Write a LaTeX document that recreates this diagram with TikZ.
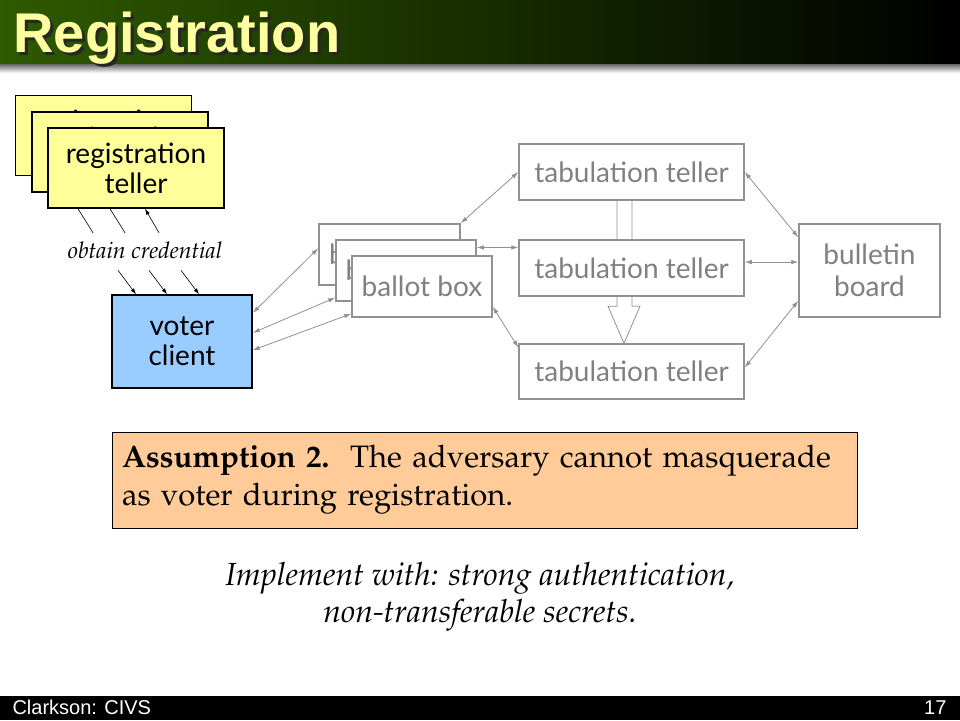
\documentclass[tikz,border=0pt]{standalone}
\usepackage[T1,TU]{fontenc}
\usepackage{fontspec}
\setsansfont{Lato}
\newfontfamily\headfont{Liberation Sans}
\usetikzlibrary{arrows.meta,backgrounds}
\definecolor{barGreen}{RGB}{46,90,0}
\definecolor{titleYellow}{RGB}{255,255,160}
\definecolor{tellerYellow}{RGB}{255,255,153}
\definecolor{clientBlue}{RGB}{153,204,255}
\definecolor{assumPeach}{RGB}{255,204,153}
\definecolor{boxGray}{RGB}{145,145,145}
\definecolor{textGray}{RGB}{128,128,128}
\newcommand{\pala}{\fontencoding{T1}\fontfamily{ppl}\selectfont}
\tikzset{
  regbox/.style={draw=black, line width=1.5pt, fill=tellerYellow, minimum width=176pt, minimum height=80pt, inner sep=0pt, align=center, font=\sffamily\fontsize{28}{30}\selectfont},
  clientbox/.style={regbox, fill=clientBlue, minimum width=140pt, minimum height=93pt},
  graybox/.style={draw=boxGray, line width=1.5pt, fill=white, text=textGray, inner sep=0pt, align=center, font=\sffamily\fontsize{28}{32}\selectfont},
  link/.style={boxGray, line width=0.8pt, {Latex[length=7pt,width=4.5pt]}-{Latex[length=7pt,width=4.5pt]}},
  hollow/.style={boxGray, line width=0.8pt, fill=white},
  tick/.style={black, line width=0.6pt, -{Latex[length=6pt,width=4pt]}}
}
\begin{document}
\begin{tikzpicture}[x=1pt,y=-1pt]
	\useasboundingbox (0,0) rectangle (960,720);
	\shade[left color=barGreen, middle color=barGreen!75!black, right color=black] (0,0) rectangle (960,64);
	\shade[top color=black!60, bottom color=white] (0,64) rectangle (960,73);
	\fill[black] (0,696) rectangle (960,720);
	\node[anchor=base west, text=black!85, font=\headfont\bfseries\fontsize{56}{60}\selectfont] (titleshadow) at (13,55) {Registration};
	\node[anchor=base west, text=titleYellow, font=\headfont\bfseries\fontsize{56}{60}\selectfont] (title) at (10,52) {Registration};
	\node[anchor=base west, text=white, font=\headfont\fontsize{20}{20}\selectfont] (footer) at (9,714) {Clarkson: CIVS};
	\node[anchor=base east, text=white, font=\headfont\fontsize{20}{20}\selectfont] (pagenum) at (950,714) {17};

	\node[regbox] (rt1) at (103.5,135.5) {registration\\teller};
	\node[regbox] (rt2) at (120,152) {registration\\teller};
	\node[regbox] (rt3) at (136,168) {registration\\teller};
	\node[clientbox] (vc) at (182,341.5) {voter\\client};
	\node[font=\pala\itshape\fontsize{23}{24}\selectfont] (obtain) at (145,250) {obtain credential};
	\foreach \dx in {-58,-26}
		\draw[line width=0.6pt] ([xshift=\dx pt]rt3.south) -- ++(15,24);
	\draw[tick] ([xshift=23pt,yshift=-24pt]rt3.south) -- ([xshift=9pt]rt3.south);
	\foreach \dx in {-46,-15,17}
		\draw[tick] ([xshift=\dx pt-18pt,yshift=24pt]vc.north) -- ([xshift=\dx pt]vc.north);

	\node[graybox, minimum width=141pt, minimum height=61pt] (bb1) at (389.5,254.5) {ballot box};
	\node[graybox, minimum width=140pt, minimum height=61pt] (bb2) at (406,270.5) {ballot box};
	\node[graybox, minimum width=140pt, minimum height=61pt] (bb3) at (422,286.5) {ballot box};
	\node[graybox, minimum width=225pt, minimum height=56pt] (tt1) at (631.5,172) {tabulation teller};
	\node[graybox, minimum width=225pt, minimum height=56pt] (tt2) at (631.5,268) {tabulation teller};
	\node[graybox, minimum width=225pt, minimum height=55pt] (tt3) at (631.5,371.5) {tabulation teller};
	\node[graybox, minimum width=141pt, minimum height=93pt] (board) at (869.5,270.5) {bulletin\\board};
	\begin{pgfonlayer}{background}
		\draw[hollow] ([xshift=-14.5pt]tt1.south) |- ([xshift=-23.5pt,yshift=37pt]tt3.north) -- ([xshift=-7.5pt]tt3.north) -- ([xshift=8.5pt,yshift=37pt]tt3.north) -| ([xshift=0.5pt]tt1.south);
	\end{pgfonlayer}

	\draw[link] (vc.22) -- (bb1.175);
	\draw[link] (vc.7) -- (bb2.201);
	\draw[link] (vc.-7) -- (bb3.201);
	\draw[link] (bb1.north east) -- (tt1.west);
	\draw[link] (bb2.18) -- (bb2.18 -| tt2.west);
	\draw[link] (bb3.-16) -- (tt3.168);
	\draw[link] (tt1.east) -- (board.155);
	\draw[link] (tt2.3) -- (tt2.3 -| board.west);
	\draw[link] (tt3.2) -- (board.203);

	\node[draw=black, line width=0.8pt, fill=assumPeach, minimum width=745pt, minimum height=96pt, text width=725pt, inner xsep=10pt, align=left, font=\pala\fontsize{31}{38}\selectfont] (assum) at (484.5,480) {\textbf{Assumption 2.}\ \ The adversary cannot masquerade\\as voter during registration.};
	\node[align=center, font=\pala\itshape\fontsize{32}{37}\selectfont] (impl) at (480,597) {Implement with: strong authentication,\\non-transferable secrets.};
\end{tikzpicture}
\end{document}
